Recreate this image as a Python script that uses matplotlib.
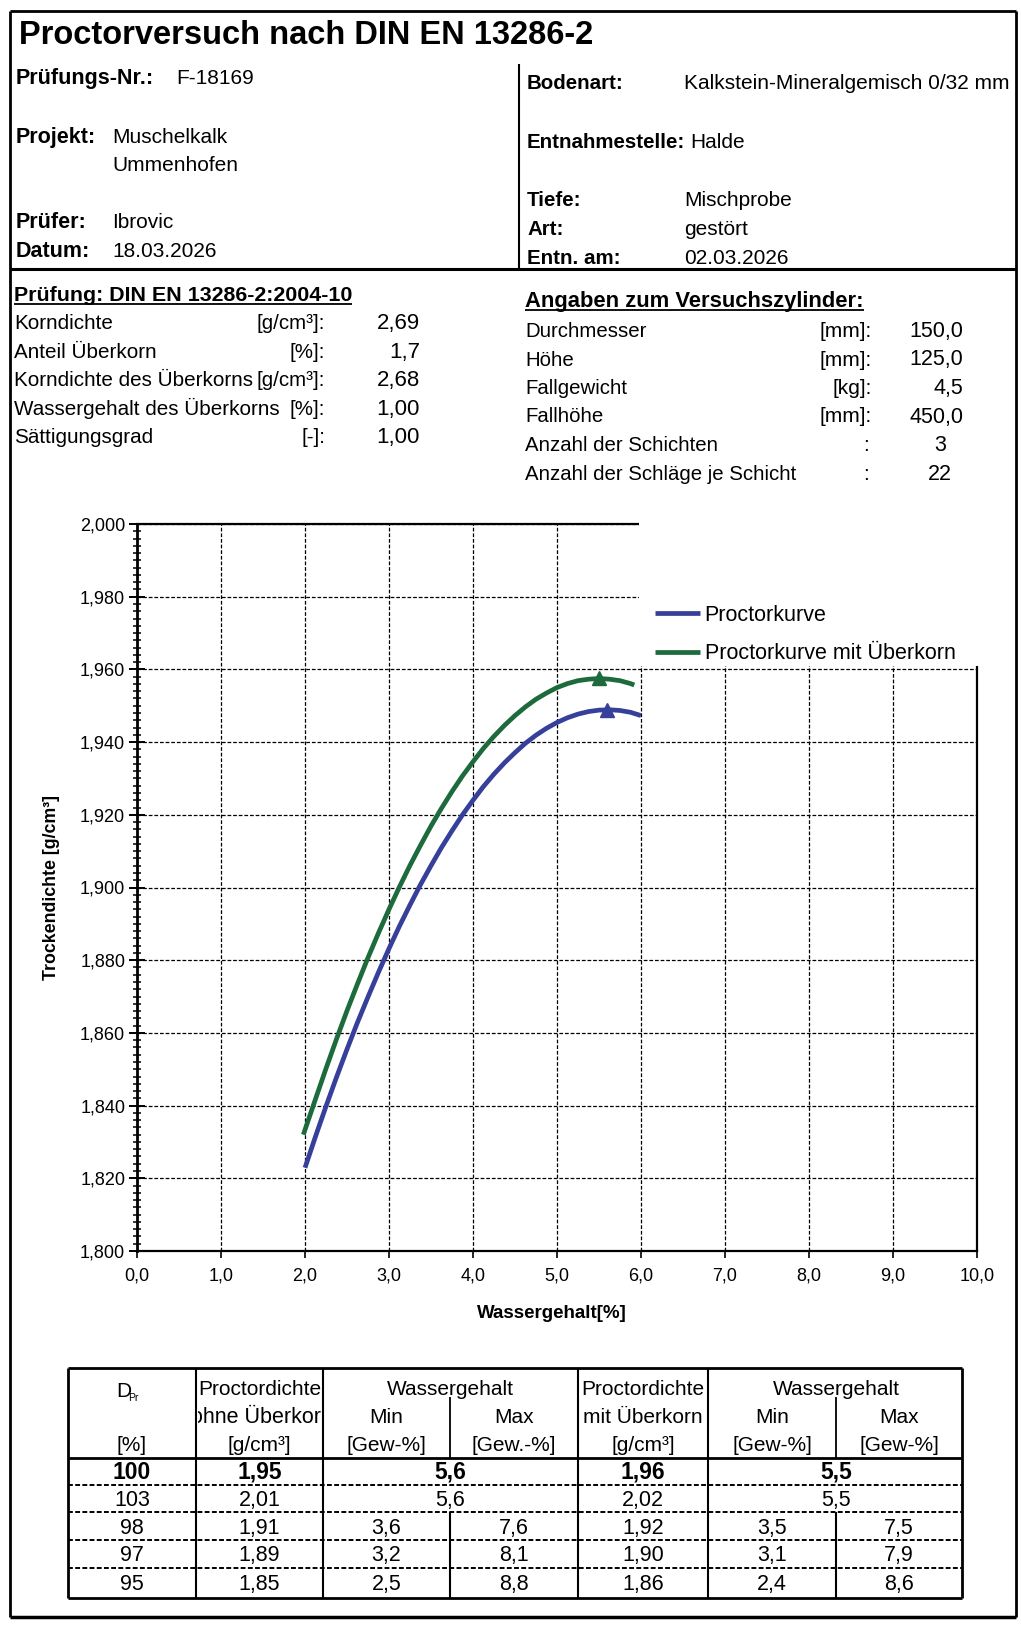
import matplotlib
matplotlib.use("Agg")
import matplotlib.pyplot as plt
from matplotlib.patches import Rectangle
from matplotlib.ticker import MultipleLocator, FuncFormatter

plt.rcParams['font.family'] = ['Liberation Sans', 'DejaVu Sans']

# Proctor curves (water content %, dry density g/cm3)
w_ohne = [2.0, 2.125, 2.25, 2.375, 2.5, 2.625, 2.75, 2.875, 3.0, 3.125, 3.25, 3.375, 3.5,
          3.625, 3.75, 3.875, 4.0, 4.125, 4.25, 4.375, 4.5, 4.625, 4.75, 4.875, 5.0,
          5.125, 5.25, 5.375, 5.5, 5.625, 5.75, 5.875, 6.0]
rho_ohne = [1.8229, 1.8315, 1.8398, 1.8478, 1.8555, 1.8629, 1.8699, 1.8767, 1.8832,
            1.8894, 1.8952, 1.9008, 1.9060, 1.9110, 1.9156, 1.9200, 1.9240, 1.9278,
            1.9312, 1.9343, 1.9371, 1.9397, 1.9419, 1.9438, 1.9454, 1.9467, 1.9477,
            1.9484, 1.9488, 1.9489, 1.9487, 1.9482, 1.9473]
w_mit = [1.98, 2.125, 2.25, 2.375, 2.5, 2.625, 2.75, 2.875, 3.0, 3.125, 3.25, 3.375, 3.5,
         3.625, 3.75, 3.875, 4.0, 4.125, 4.25, 4.375, 4.5, 4.625, 4.75, 4.875, 5.0,
         5.125, 5.25, 5.375, 5.5, 5.625, 5.75, 5.875, 5.92]
rho_mit = [1.8320, 1.8418, 1.8502, 1.8583, 1.8661, 1.8735, 1.8807, 1.8875, 1.8940,
           1.9002, 1.9061, 1.9116, 1.9169, 1.9218, 1.9264, 1.9307, 1.9346, 1.9383,
           1.9416, 1.9446, 1.9473, 1.9497, 1.9518, 1.9535, 1.9550, 1.9561, 1.9569,
           1.9573, 1.9575, 1.9573, 1.9569, 1.9561, 1.9557]
w_opt = [5.6, 5.5]
rho_opt = [1.9489, 1.9575]
series_names = ['Proctorkurve', 'Proctorkurve mit Überkorn']

# header block
head_left = [('Prüfungs-Nr.:', 'F-18169', 176, 84), ('Projekt:', 'Muschelkalk', 112, 143),
             ('', 'Ummenhofen', 112, 171), ('Prüfer:', 'Ibrovic', 112, 228),
             ('Datum:', '18.03.2026', 112, 257)]
head_right = [('Bodenart:', 'Kalkstein-Mineralgemisch 0/32 mm', 89), ('Entnahmestelle:', 'Halde', 148),
              ('Tiefe:', 'Mischprobe', 206), ('Art:', 'gestört', 235), ('Entn. am:', '02.03.2026', 264)]

params_left = [('Korndichte', '[g/cm³]:', '2,69'), ('Anteil Überkorn', '[%]:', '1,7'),
               ('Korndichte des Überkorns', '[g/cm³]:', '2,68'),
               ('Wassergehalt des Überkorns', '[%]:', '1,00'), ('Sättigungsgrad', '[-]:', '1,00')]
params_right = [('Durchmesser', '[mm]:', '150,0'), ('Höhe', '[mm]:', '125,0'),
                ('Fallgewicht', '[kg]:', '4,5'), ('Fallhöhe', '[mm]:', '450,0'),
                ('Anzahl der Schichten', ':', '3'), ('Anzahl der Schläge je Schicht', ':', '22')]

# result table
t_dpr = [100, 103, 98, 97, 95]
t_rho_ohne = [1.95, 2.01, 1.91, 1.89, 1.85]
t_wmin_ohne = [5.6, 5.6, 3.6, 3.2, 2.5]
t_wmax_ohne = [None, None, 7.6, 8.1, 8.8]
t_rho_mit = [1.96, 2.02, 1.92, 1.90, 1.86]
t_wmin_mit = [5.5, 5.5, 3.5, 3.1, 2.4]
t_wmax_mit = [None, None, 7.5, 7.9, 8.6]


def de(v, n):
    return f'{v:.{n}f}'.replace('.', ',')


W, H = 1021, 1625
fig = plt.figure(figsize=(W / 100, H / 100), dpi=100)
fig.patch.set_facecolor('white')

pg = fig.add_axes([0, 0, 1, 1], zorder=0)
pg.set_xlim(0, W)
pg.set_ylim(H, 0)
pg.axis('off')
renderer = fig.canvas.get_renderer()


def hline(x0, x1, y, lw=1.5, ls='-'):
    pg.plot([x0, x1], [y, y], color='k', lw=lw, ls=ls, solid_capstyle='butt')


def vline(x, y0, y1, lw=1.5):
    pg.plot([x, x], [y0, y1], color='k', lw=lw, solid_capstyle='butt')


def txt(x, y, s, size=14.5, weight='normal', ha='left', **kw):
    return pg.text(x, y, s, fontsize=size, fontweight=weight, ha=ha, va='baseline', **kw)


def right_end(t):
    bb = t.get_window_extent(renderer)
    return pg.transData.inverted().transform((bb.x1, bb.y0))[0]


def underline(t, yb):
    bb = t.get_window_extent(renderer)
    x0 = pg.transData.inverted().transform((bb.x0, bb.y0))[0]
    hline(x0, right_end(t), yb + 3, lw=1.3)


# page frame
hline(10, 1016, 11, lw=2)
hline(10, 1016, 1617, lw=2.5)
vline(10, 11, 1617, lw=2)
vline(1016, 11, 1617, lw=2)
hline(10, 1016, 269, lw=2.2)
vline(519, 64, 269, lw=1.5)

txt(19, 44, 'Proctorversuch nach DIN EN 13286-2', size=23.5, weight='bold')
for lab, val, xv, yb in head_left:
    if lab:
        txt(16, yb, lab, size=15.5, weight='bold')
    txt(xv, yb, val, size=15)
for lab, val, yb in head_right:
    tl_ = txt(527, yb, lab, size=14.8, weight='bold')
    xv = 684
    if lab.startswith('Entnahme'):
        xv = right_end(tl_) + 5
    txt(xv, yb, val, size=15)

t1 = txt(14, 301, 'Prüfung: DIN EN 13286-2:2004-10', size=15.4, weight='bold')
underline(t1, 301)
t2 = txt(525, 307, 'Angaben zum Versuchszylinder:', size=15.8, weight='bold')
underline(t2, 307)

for i, (lab, unit, val) in enumerate(params_left):
    yb = 329 + i * 28.6
    txt(14, yb, lab, size=14.9)
    txt(325, yb, unit, size=14.8, ha='right')
    txt(420, yb, val, size=16, ha='right')
for i, (lab, unit, val) in enumerate(params_right):
    yb = 337 + i * 28.5
    txt(525, yb, lab, size=14.7)
    txt(872 if unit != ':' else 866, yb, unit, size=15, ha='right' if unit != ':' else 'center')
    if i < 4:
        txt(963, yb, val, size=15.5, ha='right')
    else:
        txt(940, yb, val, size=15.5, ha='center')

# chart
blue, green = '#36409A', '#1D6B3C'
ax = fig.add_axes([137 / W, 1 - 1251 / H, 840 / W, 727 / H], zorder=1)
ax.set_facecolor('none')
ax.plot(w_ohne, rho_ohne, color=blue, lw=3.4, label=series_names[0], zorder=3,
        solid_joinstyle='round', solid_capstyle='butt')
ax.plot(w_mit, rho_mit, color=green, lw=3.4, label=series_names[1], zorder=3,
        solid_joinstyle='round', solid_capstyle='butt')
ax.plot(w_opt[:1], rho_opt[:1], marker='^', ms=10, color=blue, ls='none', zorder=4)
ax.plot(w_opt[1:], rho_opt[1:], marker='^', ms=10, color=green, ls='none', zorder=4)
ax.set_xlim(0, 10)
ax.set_ylim(1.8, 2.0)
ax.xaxis.set_major_locator(MultipleLocator(1))
ax.yaxis.set_major_locator(MultipleLocator(0.02))
ax.yaxis.set_minor_locator(MultipleLocator(0.002))
ax.xaxis.set_major_formatter(FuncFormatter(lambda v, p: de(v, 1)))
ax.yaxis.set_major_formatter(FuncFormatter(lambda v, p: de(v, 3)))
ax.grid(True, which='major', color='k', ls=(0, (3, 1.5)), lw=0.9)
for sp in ax.spines.values():
    sp.set_linewidth(1.6)
ax.spines['left'].set_linewidth(2.0)
ax.tick_params(axis='y', which='major', direction='inout', length=11, width=1.4, labelsize=13, pad=3)
ax.tick_params(axis='y', which='minor', direction='inout', length=6, width=1.1)
ax.tick_params(axis='x', which='major', direction='out', length=5, width=1.2, labelsize=13, pad=7)
ax.set_xlabel('Wassergehalt[%]', fontsize=13.5, fontweight='bold')
ax.xaxis.set_label_coords((552 - 137) / 840, (1251 - 1314) / 727)
ax.xaxis.label.set_va('center')
ax.set_ylabel('Trockendichte [g/cm³]', fontsize=12.8, fontweight='bold')
ax.yaxis.set_label_coords((52 - 137) / 840, 0.5)
ax.yaxis.label.set_va('center')

# white legend area hiding the upper right part of the grid
ax.add_patch(Rectangle((0.598, 0.8045), 0.43, 0.21, transform=ax.transAxes,
                       facecolor='white', edgecolor='none', zorder=2.6, clip_on=False))
ax.legend(loc='upper left', bbox_to_anchor=(655 / W, 1 - 605 / H), bbox_transform=fig.transFigure,
          frameon=False, fontsize=15.5, handlelength=2.1, handletextpad=0.2, labelspacing=0.8,
          borderpad=0, borderaxespad=0)

# table
tl, tr, tt, tb = 68, 962, 1368, 1598
cols = [68, 196, 323, 450, 578, 708, 836, 962]
row_lines = [1485, 1512, 1540, 1568]
hline(tl, tr, tt, lw=2)
hline(tl, tr, tb, lw=2)
vline(tl, tt, tb, lw=2)
vline(tr, tt, tb, lw=2)
for c in [196, 323, 578, 708]:
    vline(c, tt, tb, lw=1.5)
hline(tl, tr, 1458, lw=2)
for y in row_lines:
    hline(tl, tr, y, lw=1.4, ls=(0, (2.5, 1.2)))
for c in [450, 836]:
    vline(c, 1397, 1458, lw=1.3)
    vline(c, 1512, tb, lw=1.5)

hs = 15
cx = [(cols[i] + cols[i + 1]) / 2 for i in range(7)]
txt(116, 1397, 'D', size=hs)
txt(128, 1401, 'Pr', size=7.5)
txt(cx[0], 1451, '[%]', size=hs, ha='center')
txt(cx[1], 1395, 'Proctordichte', size=hs, ha='center')
ohne = txt(cx[1] + 2, 1423, 'ohne Überkorn', size=15.5, ha='center')
ohne.set_clip_path(Rectangle((198, 1370), 123, 86, transform=pg.transData))
ohne.set_clip_on(True)
txt(cx[1], 1451, '[g/cm³]', size=hs, ha='center')
txt(cols[3], 1395, 'Wassergehalt', size=hs, ha='center')
txt(cx[2], 1423, 'Min', size=hs, ha='center')
txt(cx[3], 1423, 'Max', size=hs, ha='center')
txt(cx[2], 1451, '[Gew-%]', size=hs, ha='center')
txt(cx[3], 1451, '[Gew.-%]', size=hs, ha='center')
txt(cx[4], 1395, 'Proctordichte', size=hs, ha='center')
txt(cx[4], 1423, 'mit Überkorn', size=hs, ha='center')
txt(cx[4], 1451, '[g/cm³]', size=hs, ha='center')
txt(cols[6], 1395, 'Wassergehalt', size=hs, ha='center')
txt(cx[5], 1423, 'Min', size=hs, ha='center')
txt(cx[6], 1423, 'Max', size=hs, ha='center')
txt(cx[5], 1451, '[Gew-%]', size=hs, ha='center')
txt(cx[6], 1451, '[Gew-%]', size=hs, ha='center')

row_base = [1479, 1506, 1534, 1561, 1590]
for i in range(len(t_dpr)):
    yb = row_base[i]
    wt = 'bold' if i == 0 else 'normal'
    sz = 16.5 if i == 0 else 15.5
    txt(cx[0], yb, str(t_dpr[i]), size=sz, weight=wt, ha='center')
    txt(cx[1], yb, de(t_rho_ohne[i], 2), size=sz, weight=wt, ha='center')
    txt(cx[4], yb, de(t_rho_mit[i], 2), size=sz, weight=wt, ha='center')
    if t_wmax_ohne[i] is None:
        txt(cols[3], yb, de(t_wmin_ohne[i], 1), size=sz, weight=wt, ha='center')
        txt(cols[6], yb, de(t_wmin_mit[i], 1), size=sz, weight=wt, ha='center')
    else:
        txt(cx[2], yb, de(t_wmin_ohne[i], 1), size=sz, ha='center')
        txt(cx[3], yb, de(t_wmax_ohne[i], 1), size=sz, ha='center')
        txt(cx[5], yb, de(t_wmin_mit[i], 1), size=sz, ha='center')
        txt(cx[6], yb, de(t_wmax_mit[i], 1), size=sz, ha='center')

fig.savefig('out.png', dpi=100, facecolor='white')
